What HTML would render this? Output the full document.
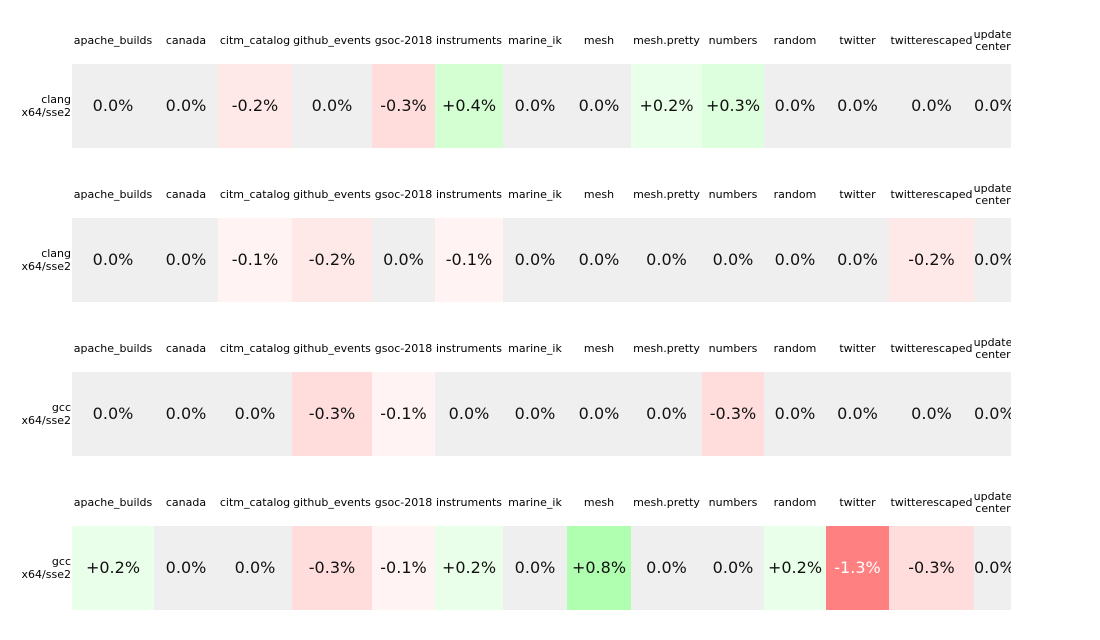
<!DOCTYPE html>
<html><head><meta charset="utf-8"><style>
body{margin:0;width:1100px;height:640px;background:#fff;font-family:"DejaVu Sans","Liberation Sans",sans-serif;position:relative;overflow:hidden}
#clip{position:absolute;left:0;top:0;width:1011px;height:640px;overflow:hidden}
.h{position:absolute;font-size:11px;color:#000;text-align:center;line-height:12px;white-space:nowrap}
.c{position:absolute;height:84px;line-height:84px;text-align:center;font-size:16px;color:#111}
.l{position:absolute;left:0;width:71px;text-align:right;font-size:11px;line-height:13px}
</style></head><body><div id="clip"></div>
<script>
const E=[72,154,218,292,372,435,503,567,631,702,764,826,889,974,1012];
const N=["apache_builds","canada","citm_catalog","github_events","gsoc-2018","instruments","marine_ik","mesh","mesh.pretty","numbers","random","twitter","twitterescaped","update<br>center"];
const R=[["clang",[0,0,-.2,0,-.3,.4,0,0,.2,.3,0,0,0,0]],["clang",[0,0,-.1,-.2,0,-.1,0,0,0,0,0,0,-.2,0]],["gcc",[0,0,0,-.3,-.1,0,0,0,0,-.3,0,0,0,0]],["gcc",[.2,0,0,-.3,-.1,.2,0,.8,0,0,.2,-1.3,-.3,0]]];
function col(v){const m={"-0.1":"#fff3f3","-0.2":"#ffe8e8","-0.3":"#ffdddd","-1.3":"#ff8080","0.2":"#eaffea","0.3":"#ddffdd","0.4":"#d3ffd3","0.8":"#b0ffb0"};return v==0?"#efefef":m[v.toFixed(1)];}
let h="";const c=document.getElementById('clip');
R.forEach((r,i)=>{const y=64+i*154;
N.forEach((n,j)=>{const w=E[j+1]-E[j];const two=n.includes("<br>");
h+=`<div class="h" style="left:${E[j]-10}px;width:${w+20}px;top:${y-(two?35:29)}px">${n}</div>`;
const v=r[1][j];const t=(v>0?"+":"")+v.toFixed(1)+"%";
h+=`<div class="c" style="left:${E[j]}px;width:${w}px;top:${y}px;background:${col(v)};${v<-1?'color:#fff':''}">${t}</div>`;});
h+=`<div class="l" style="top:${y+29}px">${r[0]}<br>x64/sse2</div>`;});
c.innerHTML=h;
</script></body></html>
